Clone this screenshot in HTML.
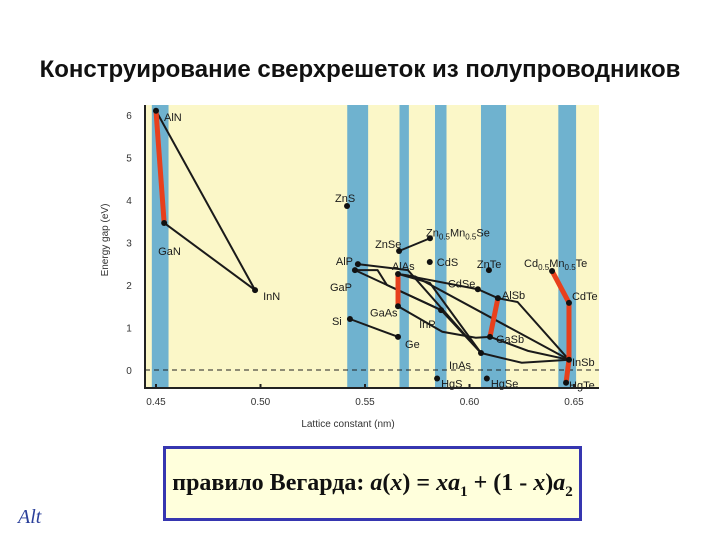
<!DOCTYPE html>
<html><head><meta charset="utf-8"><style>
body{margin:0;width:720px;height:540px;background:#fff;overflow:hidden;position:relative;font-family:"Liberation Sans",sans-serif}
#title{position:absolute;left:0;width:720px;top:56px;text-align:center;font-weight:bold;font-size:24px;color:#111;white-space:nowrap}
#box{position:absolute;left:163px;top:446px;width:413px;height:69px;border:3px solid #3636b0;background:#ffffdc;text-align:center;font-family:"Liberation Serif",serif;font-weight:bold;font-size:24px;line-height:69px;color:#111;white-space:nowrap}
#logo{position:absolute;left:18px;top:506px;font-family:"Liberation Serif",serif;font-style:italic;font-size:20px;color:#2a3f9a}
</style></head><body>
<div id="title">Конструирование сверхрешеток из полупроводников</div>
<svg id="chart" width="720" height="540" style="position:absolute;left:0;top:0"></svg>
<div id="box">правило Вегарда: <i>a</i>(<i>x</i>) = <i>xa</i><sub style="font-size:15px">1</sub> + (1 - <i>x</i>)<i>a</i><sub style="font-size:15px">2</sub></div>
<div id="logo">Alt</div>
<script>
const xTicks=[0.45,0.50,0.55,0.60,0.65];
const yTicks=[0,1,2,3,4,5,6];
const bands=[[0.448,0.456],[0.5415,0.5515],[0.5665,0.571],[0.5835,0.589],[0.6055,0.6175],[0.6425,0.651]];
const names=["AlN","GaN","InN","ZnS","ZnSe","ZnMnSe","CdS","ZnTe","AlP","GaP","AlAs","GaAs","InP","CdSe","AlSb","GaSb","InAs","Si","Ge","HgS","HgSe","CdMnTe","CdTe","InSb","HgTe"];
const lat=[0.45,0.4539,0.4974,0.5414,0.5663,0.5811,0.581,0.6093,0.5466,0.5452,0.5658,0.5658,0.5864,0.604,0.6136,0.6098,0.6055,0.5428,0.5658,0.5845,0.6083,0.6395,0.6476,0.6476,0.6462];
const gap=[6.1,3.46,1.88,3.86,2.8,3.1,2.54,2.35,2.49,2.35,2.26,1.5,1.41,1.9,1.69,0.78,0.40,1.2,0.78,-0.2,-0.2,2.33,1.58,0.24,-0.3];
const black=[[[0.45,6.1],[0.4974,1.88]],[[0.4539,3.46],[0.4974,1.88]],[[0.5663,2.8],[0.5811,3.1]],[[0.5428,1.2],[0.5658,0.78]],
[[0.5466,2.49],[0.5705,2.35],[0.6055,0.40]],
[[0.5452,2.35],[0.556,2.35],[0.5605,2.0],[0.5864,1.41]],
[[0.5452,2.35],[0.5864,1.41]],
[[0.5658,2.26],[0.581,2.05],[0.6055,0.40]],
[[0.5658,2.26],[0.604,1.9],[0.6136,1.69],[0.623,1.6],[0.6476,0.24]],
[[0.5658,2.26],[0.574,2.2],[0.6476,0.24]],
[[0.5658,1.5],[0.587,0.9],[0.603,0.76],[0.6098,0.78]],
[[0.5864,1.41],[0.6055,0.40]],
[[0.6098,0.78],[0.628,0.45],[0.6476,0.24]],
[[0.6055,0.40],[0.625,0.17],[0.6476,0.24]]];
const red=[[[0.45,6.1],[0.4539,3.46]],[[0.5658,2.26],[0.5658,1.5]],[[0.6136,1.69],[0.6098,0.78]],[[0.6395,2.33],[0.6476,1.58],[0.6476,0.24],[0.6462,-0.3]]];
const L=145,R=599,T=105,B=388;
const X=v=>156+(v-0.45)*2090, Y=v=>370-v*42.5;
const svg=document.getElementById('chart');const NS='http://www.w3.org/2000/svg';
function mk(t,a){const e=document.createElementNS(NS,t);for(const k in a)e.setAttribute(k,a[k]);svg.appendChild(e);return e;}
let bg=mk('rect',{x:L,y:T,width:R-L,height:B-T,fill:'#fbf7c8'});


bands.forEach(b=>{const r=mk('rect',{x:X(b[0]),y:T,width:X(b[1])-X(b[0]),height:B-T,fill:'#6fb2cf'});

});
let z=mk('line',{x1:L,x2:R,y1:Y(0),y2:Y(0),stroke:'#222','stroke-dasharray':'5,4'});


const pl=p=>p.map(q=>X(q[0])+','+Y(q[1])).join(' ');
black.forEach(p=>{const e=mk('polyline',{points:pl(p),fill:'none',stroke:'#1a1a1a','stroke-width':2});

});
red.forEach(p=>{const e=mk('polyline',{points:pl(p),fill:'none',stroke:'#e8401c','stroke-width':5,'stroke-linejoin':'round'});

});
const lab={AlN:[8,6,'AlN'],GaN:[-6,28,'GaN'],InN:[8,6,'InN'],ZnS:[-12,-8,'ZnS'],ZnSe:[-24,-7,'ZnSe'],ZnMnSe:[-4,-6,'Zn0.5Mn0.5Se'],CdS:[7,0,'CdS'],ZnTe:[-12,-6,'ZnTe'],AlP:[-22,-3,'AlP'],GaP:[-25,17,'GaP'],AlAs:[-6,-8,'AlAs'],GaAs:[-28,6,'GaAs'],InP:[-22,14,'InP'],CdSe:[-30,-6,'CdSe'],AlSb:[4,-3,'AlSb'],GaSb:[6,2,'GaSb'],InAs:[-32,12,'InAs'],Si:[-18,2,'Si'],Ge:[7,7,'Ge'],HgS:[4,5,'HgS'],HgSe:[4,5,'HgSe'],CdMnTe:[-28,-8,'Cd0.5Mn0.5Te'],CdTe:[3,-7,'CdTe'],InSb:[3,2,'InSb'],HgTe:[3,2,'HgTe']};
names.forEach((n,i)=>{const c=mk('circle',{cx:X(lat[i]),cy:Y(gap[i]),r:3,fill:'#111'});


const l=lab[n];const t=mk('text',{x:X(lat[i])+l[0],y:Y(gap[i])+l[1]+4,'font-size':11,fill:'#1a1a1a'});


const m=l[2].match(/^(\w+?)(0\.5)(\w+?)(0\.5)(\w+)$/);
if(m){t.innerHTML=m[1]+'<tspan font-size="8" dy="3">0.5</tspan><tspan dy="-3">'+m[3]+'</tspan><tspan font-size="8" dy="3">0.5</tspan><tspan dy="-3">'+m[5]+'</tspan>';}else t.textContent=l[2];});
let ax=mk('path',{d:`M${L},${T}V${B}H${R}`,fill:'none',stroke:'#222','stroke-width':2});


xTicks.forEach(v=>{mk('line',{x1:X(v),x2:X(v),y1:B,y2:B-4,stroke:'#222','stroke-width':2});
const t=mk('text',{x:X(v),y:B+17,'font-size':10,'text-anchor':'middle',fill:'#333'});t.textContent=v.toFixed(2);

});
yTicks.forEach(v=>{const t=mk('text',{x:L-16,y:Y(v)+4,'font-size':10,'text-anchor':'middle',fill:'#333'});t.textContent=v;

});
let xt=mk('text',{x:348,y:427,'font-size':10,'text-anchor':'middle',fill:'#333'});xt.textContent='Lattice constant (nm)';


let yt=mk('text',{x:108,y:240,'font-size':10,'text-anchor':'middle',fill:'#333',transform:'rotate(-90 108 240)'});yt.textContent='Energy gap (eV)';


</script>
</body></html>
